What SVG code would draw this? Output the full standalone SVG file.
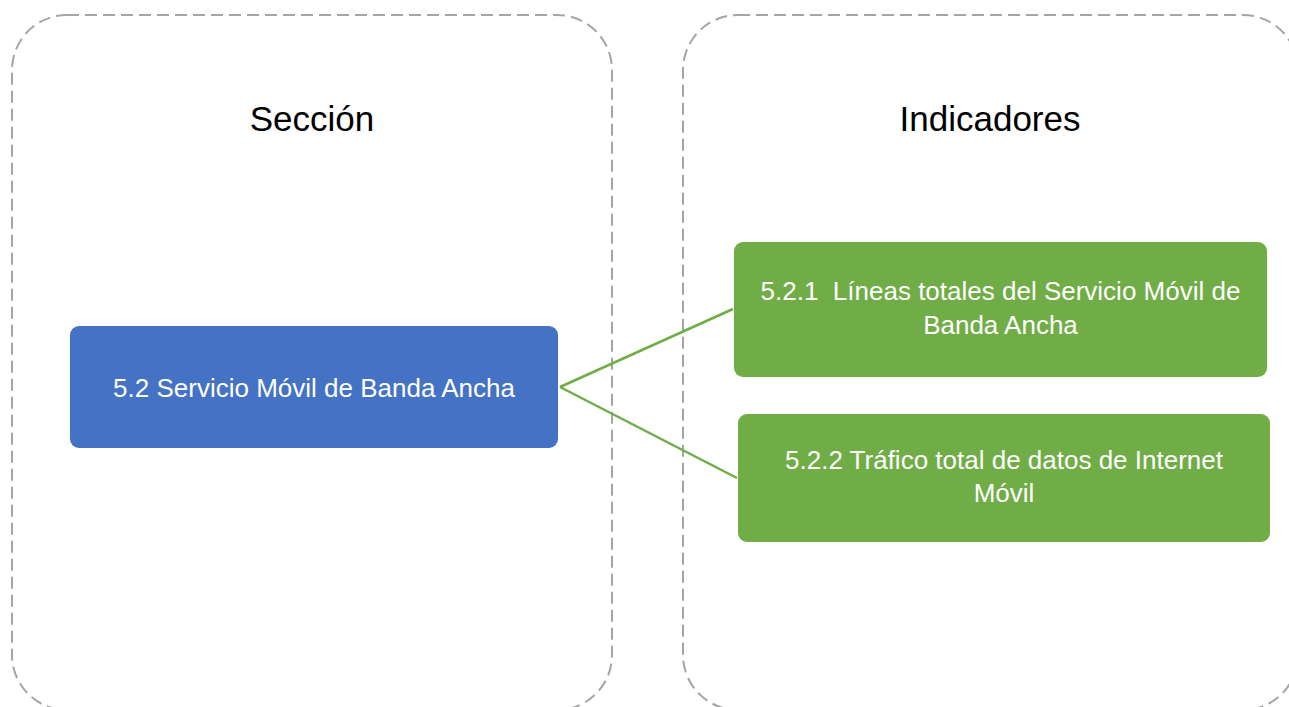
<svg xmlns="http://www.w3.org/2000/svg" width="1289" height="707" viewBox="0 0 1289 707">
<style>
.panel{fill:none;stroke:#A5A5A5;stroke-width:2;stroke-dasharray:12 6}
.title{font-family:"Liberation Sans",Arial,sans-serif;font-size:35px;fill:#000;text-anchor:middle}
.lbl{font-family:"Liberation Sans",Arial,sans-serif;font-size:26px;fill:#fff;text-anchor:middle}
.blue{fill:#4472C4}
.green{fill:#70AD47}
.conn{stroke:#70AD47;stroke-width:2.5;fill:none}
</style>
<rect width="1289" height="707" fill="#fff"/>
<g id="panel-seccion">
<rect class="panel" x="12" y="15" width="600" height="695" rx="55" ry="55"/>
<text class="title" x="312" y="131">Sección</text>
</g>
<g id="panel-indicadores">
<rect class="panel" x="683" y="15" width="615" height="695" rx="55" ry="55"/>
<text class="title" x="990" y="131">Indicadores</text>
</g>
<g id="connectors">
<line class="conn" x1="560" y1="387" x2="733" y2="309"/>
<line class="conn" x1="560" y1="387" x2="737" y2="478"/>
</g>
<g id="node-5-2">
<rect class="blue" x="70" y="326" width="488" height="122" rx="9" ry="9"/>
<text class="lbl" x="314" y="397">5.2 Servicio Móvil de Banda Ancha</text>
</g>
<g id="node-5-2-1">
<rect class="green" x="734" y="242" width="533" height="135" rx="9" ry="9"/>
<text class="lbl" x="1000.5" y="300" xml:space="preserve">5.2.1  Líneas totales del Servicio Móvil de</text>
<text class="lbl" x="1000.5" y="334">Banda Ancha</text>
</g>
<g id="node-5-2-2">
<rect class="green" x="738" y="414" width="532" height="128" rx="9" ry="9"/>
<text class="lbl" x="1004" y="469">5.2.2 Tráfico total de datos de Internet</text>
<text class="lbl" x="1004" y="502">Móvil</text>
</g>
</svg>
